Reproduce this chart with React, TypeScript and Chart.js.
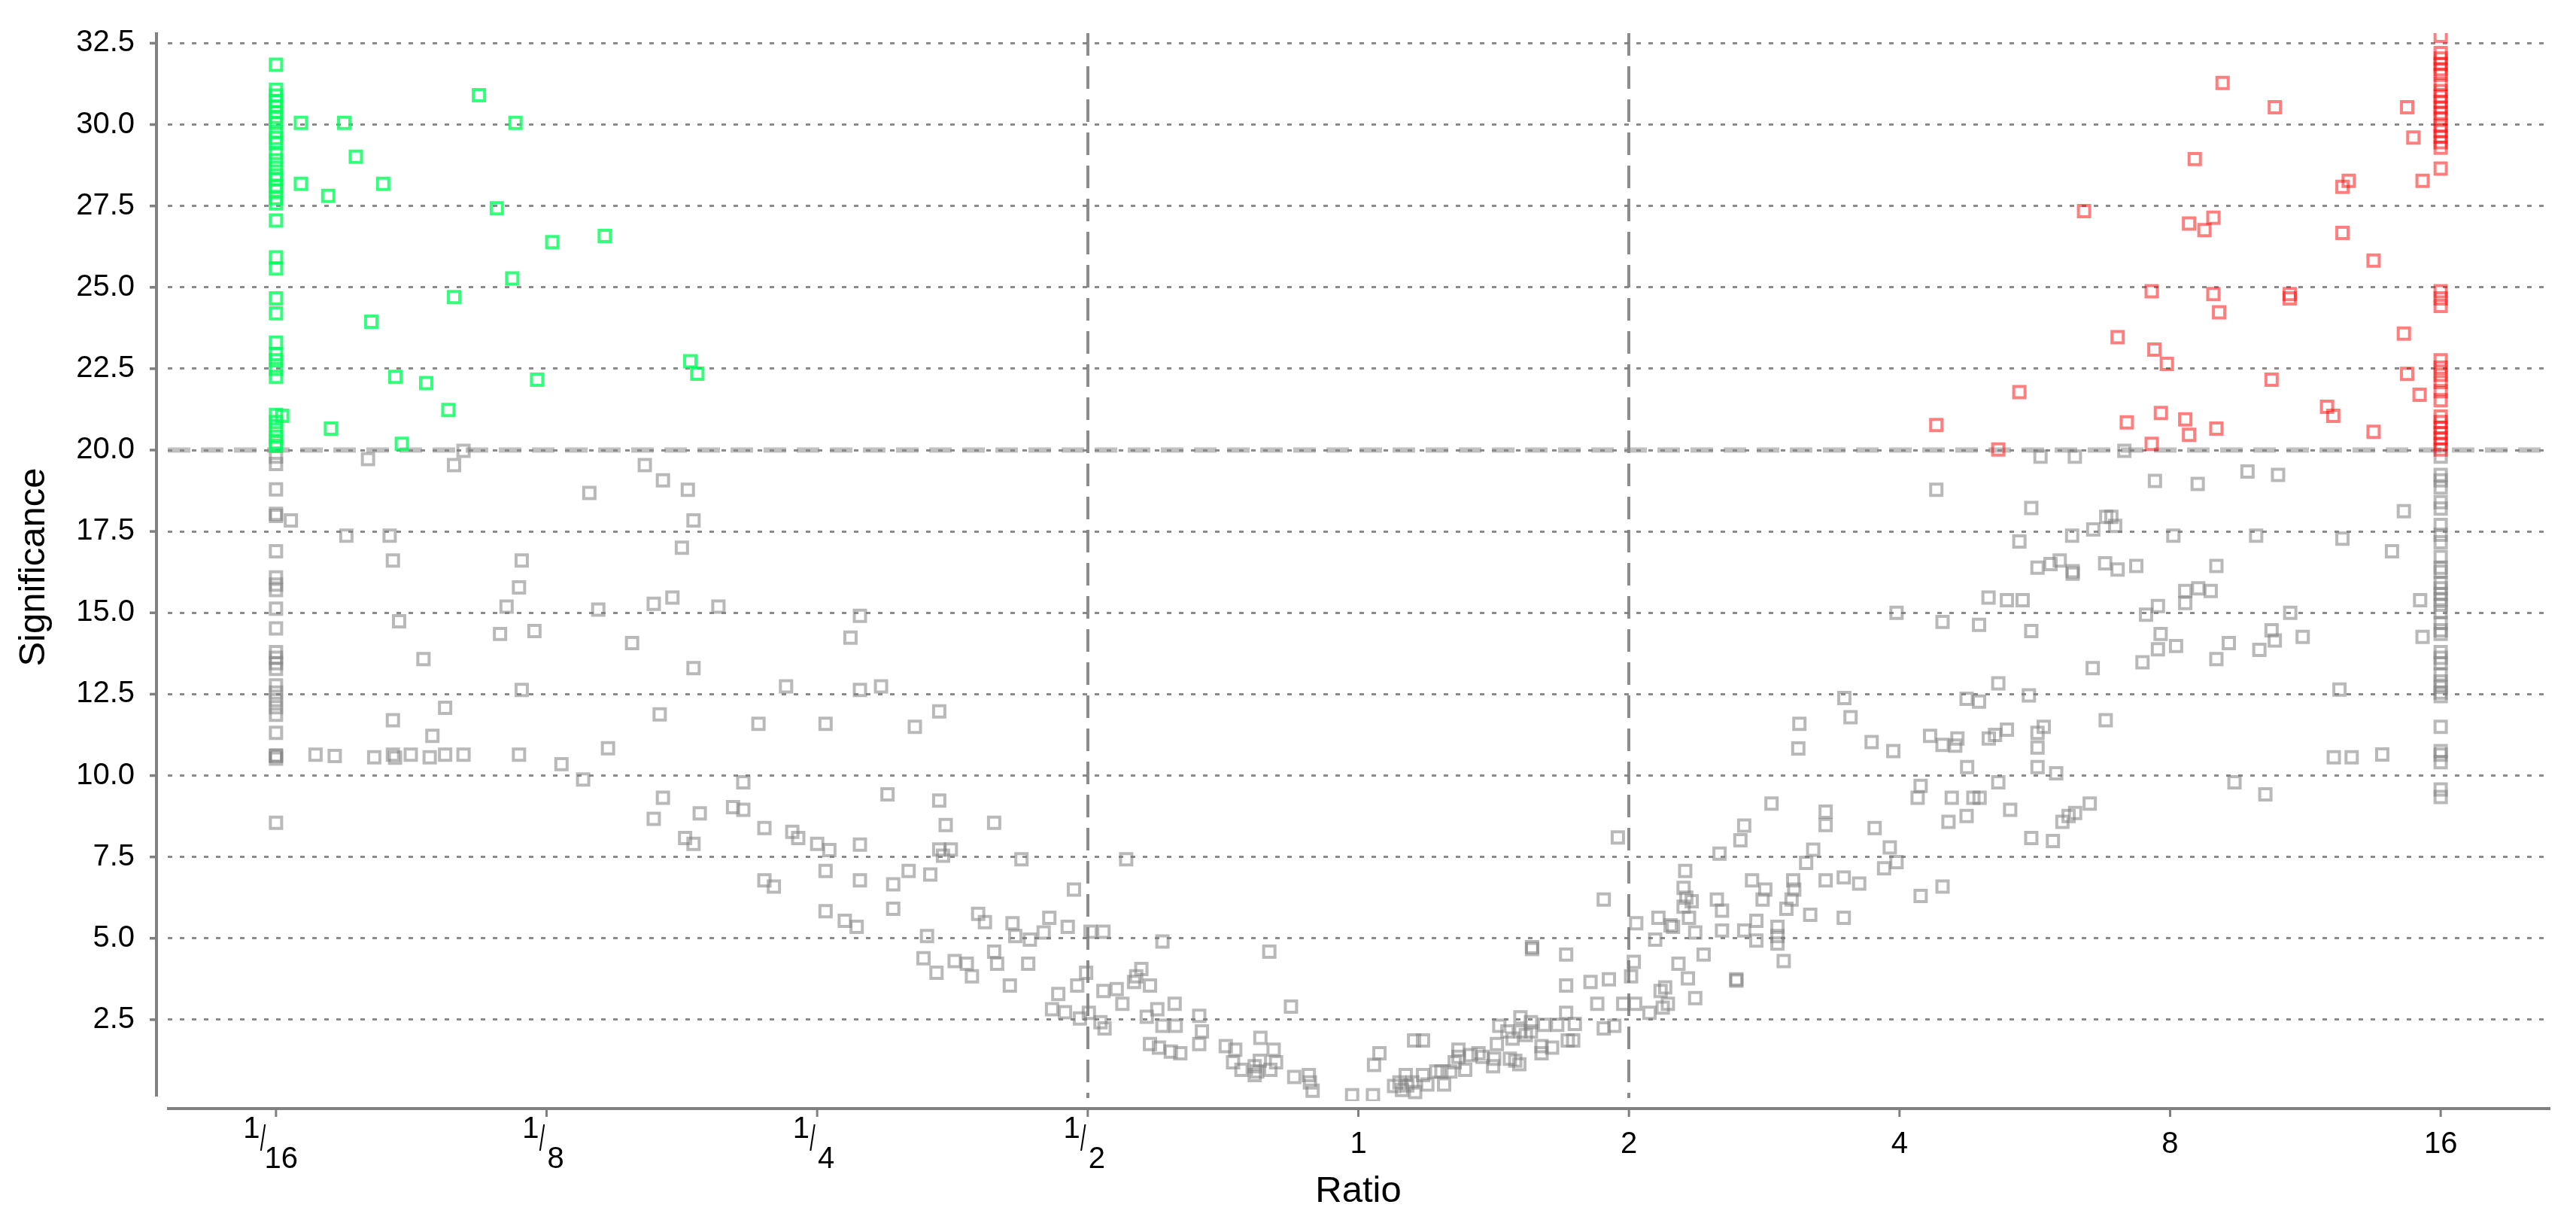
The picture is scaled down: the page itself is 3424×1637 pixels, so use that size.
import React, { useEffect, useRef } from 'react';
import { Chart, registerables } from 'chart.js';

Chart.register(...registerables);

const FONT = '"Liberation Sans", Arial, sans-serif';

// x axis: ratio ticks (log2 exponents) and their labels
const xTickLog2 = [-4, -3, -2, -1, 0, 1, 2, 3, 4];
const xTickLabels = ['1/16', '1/8', '1/4', '1/2', '1', '2', '4', '8', '16'];
const xRangeLog2 = [-4.4, 4.4];

// y axis: significance ticks
const yTicks = [2.5, 5, 7.5, 10, 12.5, 15, 17.5, 20, 22.5, 25, 27.5, 30, 32.5];
const yRange = [0, 32.81];

// thresholds
const ratioThresholds = [0.5, 2];
const significanceThreshold = 20;

// points: [log2(ratio), significance]
const greenPoints: [number, number][] = [
  [-4, 31.84], [-4, 31.07], [-4, 30.89], [-4, 30.72], [-4, 30.55], [-4, 30.38], [-4, 30.24], [-4, 30.05],
  [-4, 29.78], [-4, 29.59], [-4, 29.43], [-4, 29.13], [-4, 28.9], [-4, 28.67], [-4, 28.44], [-4, 28.32],
  [-4, 28.12], [-4, 27.97], [-4, 27.74], [-4, 27.58], [-4, 27.05], [-4, 25.92], [-4, 25.58], [-4, 24.66],
  [-4, 24.2], [-4, 23.3], [-4, 22.95], [-4, 22.76], [-4, 22.5], [-4, 22.25], [-4, 21.08], [-4, 20.86],
  [-4, 20.63], [-4, 20.41], [-4, 20.24], [-4, 20.13],
  [-3.908, 30.05], [-3.748, 30.05], [-3.25, 30.9], [-3.115, 30.05], [-3.705, 29.01], [-3.908, 28.18],
  [-3.807, 27.81], [-3.604, 28.18], [-3.184, 27.43], [-2.979, 26.39], [-2.785, 26.58], [-3.127, 25.27],
  [-3.342, 24.7], [-3.648, 23.94], [-2.469, 22.73], [-2.443, 22.35], [-3.559, 22.25], [-3.445, 22.06],
  [-3.035, 22.16], [-3.363, 21.23], [-3.797, 20.66], [-3.535, 20.19], [-3.977, 21.05],
];

const redPoints: [number, number][] = [
  [4, 32.73], [4, 32.2], [4, 32.03], [4, 31.86], [4, 31.7], [4, 31.53], [4, 31.25], [4, 31.03],
  [4, 30.86], [4, 30.7], [4, 30.52], [4, 30.36], [4, 30.19], [4, 29.96], [4, 29.8], [4, 29.63],
  [4, 29.46], [4, 29.29], [4, 28.65], [4, 24.88], [4, 24.66], [4, 24.43], [4, 22.76], [4, 22.53],
  [4, 22.31], [4, 22.09], [4, 21.81], [4, 21.53], [4, 21.03], [4, 20.86], [4, 20.69], [4, 20.52],
  [4, 20.36], [4, 20.19], [4, 20.02],
  [3.194, 31.28], [3.387, 30.53], [3.876, 30.53], [3.899, 29.6], [3.091, 28.94], [3.933, 28.27],
  [3.66, 28.27], [3.637, 28.09], [2.682, 27.34], [3.07, 26.96], [3.16, 27.14], [3.127, 26.76],
  [3.637, 26.67], [3.752, 25.82], [2.932, 24.88], [3.16, 24.79], [3.442, 24.79], [3.442, 24.66],
  [3.181, 24.23], [2.806, 23.47], [2.942, 23.09], [2.988, 22.65], [3.864, 23.58], [3.375, 22.16],
  [3.876, 22.34], [3.922, 21.7], [2.443, 21.78], [3.58, 21.33], [3.603, 21.05], [2.136, 20.77],
  [2.84, 20.85], [2.966, 21.14], [3.056, 20.94], [3.07, 20.47], [3.171, 20.66], [2.932, 20.19],
  [3.752, 20.56], [2.365, 20.02],
];

const grayPoints: [number, number][] = [
  // left column (1/16)
  [-4, 19.8], [-4, 19.57], [-4, 18.79], [-4, 18.04], [-4, 17.98], [-4, 16.89], [-4, 16.09], [-4, 15.87],
  [-4, 15.7], [-4, 15.13], [-4, 14.52], [-4, 13.79], [-4, 13.62], [-4, 13.45], [-4, 13.28], [-4, 12.77],
  [-4, 12.55], [-4, 12.32], [-4, 12.1], [-4, 11.87], [-4, 11.31], [-4, 10.62], [-4, 10.6], [-4, 10.52],
  [-4, 8.55],
  // left upper region
  [-3.945, 17.84], [-3.66, 19.72], [-3.307, 19.98], [-3.342, 19.54], [-2.637, 19.54], [-2.57, 19.07],
  [-2.478, 18.78], [-2.842, 18.68], [-2.457, 17.84], [-3.74, 17.37], [-3.58, 17.37], [-2.5, 17.0],
  [-3.568, 16.61], [-3.092, 16.61],
  [-3.102, 15.78], [-3.148, 15.19], [-3.172, 14.35], [-3.045, 14.44], [-3.545, 14.74], [-3.455, 13.58],
  [-2.809, 15.1], [-2.604, 15.28], [-2.535, 15.47], [-2.365, 15.19], [-2.684, 14.07], [-2.457, 13.3],
  [-1.842, 14.91], [-1.877, 14.24], [-3.092, 12.63], [-2.115, 12.74], [-1.842, 12.63], [-1.764, 12.74],
  [-3.568, 11.7], [-3.375, 12.08], [-3.422, 11.22], [-2.582, 11.88], [-2.217, 11.59], [-1.969, 11.59],
  [-1.639, 11.5], [-1.549, 11.97],
  [-3.854, 10.64], [-3.783, 10.6], [-3.637, 10.56], [-3.568, 10.64], [-3.56, 10.55], [-3.502, 10.64],
  [-3.432, 10.56], [-3.375, 10.64], [-3.307, 10.64], [-3.102, 10.64], [-2.945, 10.35], [-2.773, 10.84],
  [-2.865, 9.88], [-2.273, 9.79], [-2.57, 9.32], [-2.604, 8.67], [-2.434, 8.84], [-2.311, 9.03],
  [-2.273, 8.95], [-1.74, 9.42], [-1.549, 9.23],
  [-2.488, 8.08], [-2.457, 7.9], [-2.195, 8.39], [-2.092, 8.27], [-2.07, 8.08], [-2.0, 7.9],
  [-1.955, 7.71], [-1.842, 7.88], [-1.525, 8.48], [-1.549, 7.73], [-1.506, 7.73], [-1.535, 7.54],
  [-2.195, 6.78], [-2.16, 6.59], [-1.969, 7.07], [-1.842, 6.78], [-1.719, 6.66], [-1.662, 7.07],
  [-1.582, 6.96], [-1.969, 5.83], [-1.898, 5.54], [-1.854, 5.35], [-1.719, 5.91], [-1.594, 5.07],
  [-1.607, 4.39], [-1.559, 3.94], [-1.492, 4.3], [-1.447, 4.22], [-1.428, 3.83], [-1.405, 5.75],
  // centre valley
  [-1.346, 8.55], [-1.245, 7.43], [-0.858, 7.43], [-1.38, 5.5], [-1.278, 5.46], [-1.142, 5.63],
  [-1.074, 5.35], [-1.051, 6.5], [-1.268, 5.07], [-1.214, 4.96], [-1.163, 5.18], [-1.346, 4.59],
  [-1.335, 4.22], [-1.22, 4.22], [-1.288, 3.55],
  [-0.99, 5.2], [-0.942, 5.2], [-0.724, 4.9], [-0.329, 4.59], [-1.006, 3.94], [-1.039, 3.55],
  [-1.109, 3.29], [-1.132, 2.82], [-1.084, 2.73], [-1.029, 2.54], [-0.996, 2.71], [-0.953, 2.42],
  [-0.938, 2.23], [-0.942, 3.38], [-0.893, 3.44], [-0.872, 2.99], [-0.829, 3.66], [-0.821, 3.83],
  [-0.802, 4.06], [-0.77, 3.55], [-0.679, 2.99], [-0.743, 2.82], [-0.782, 2.59], [-0.724, 2.31],
  [-0.675, 2.31], [-0.588, 2.62], [-0.578, 2.14], [-0.588, 1.75], [-0.77, 1.75], [-0.737, 1.64],
  [-0.693, 1.52], [-0.658, 1.47], [-0.49, 1.69], [-0.455, 1.58], [-0.463, 1.19], [-0.432, 0.96],
  [-0.383, 1.07], [-0.374, 0.91], [-0.364, 1.24], [-0.383, 0.8], [-0.325, 0.96], [-0.362, 1.94],
  [-0.313, 1.58], [-0.304, 1.19], [-0.249, 2.9], [-0.237, 0.74], [-0.183, 0.8], [-0.179, 0.57],
  [-0.169, 0.32], [-0.023, 0.18], [0.054, 0.18], [0.058, 1.11], [0.078, 1.47],
  [0.132, 0.46], [0.152, 0.57], [0.161, 0.34], [0.181, 0.48], [0.2, 0.57], [0.21, 0.28],
  [0.175, 0.8], [0.206, 1.86], [0.239, 1.86], [0.239, 0.8], [0.255, 0.51], [0.288, 0.91],
  [0.307, 0.91], [0.317, 0.51], [0.34, 0.91], [0.356, 1.19], [0.37, 1.58], [0.37, 1.36],
  [0.395, 0.96], [0.414, 1.41], [0.444, 1.47], [0.459, 1.36], [0.498, 1.07], [0.502, 1.3],
  [0.512, 1.75], [0.521, 2.31], [0.551, 2.14], [0.56, 1.3], [0.57, 1.92], [0.58, 1.24],
  [0.595, 1.13], [0.599, 2.57], [0.599, 2.14], [0.619, 2.03], [0.638, 2.42], [0.638, 2.14],
  [0.642, 4.67], [0.642, 4.73], [0.677, 1.69], [0.677, 1.47], [0.687, 2.34], [0.716, 1.64],
  [0.735, 2.34], [0.768, 4.5], [0.768, 3.55], [0.768, 2.71], [0.774, 1.86], [0.794, 1.86],
  [0.8, 2.37], [0.858, 3.66], [0.883, 2.99], [0.907, 6.19], [0.907, 2.23], [0.926, 3.74],
  [0.946, 2.31], [0.959, 8.1], [0.979, 2.99], [1.008, 3.83], [1.018, 4.28], [1.023, 2.99],
  [1.027, 5.46], [1.076, 2.71], [1.097, 4.96], [1.109, 5.63], [1.117, 3.38], [1.125, 2.87],
  [1.144, 2.99], [1.134, 3.49], [1.154, 5.4], [1.163, 5.35], [1.183, 4.22], [1.202, 6.55],
  [1.208, 7.07], [1.202, 5.97], [1.212, 6.25], [1.218, 3.77], [1.222, 5.63], [1.232, 6.14],
  [1.245, 5.18], [1.245, 3.16], [1.276, 4.5], [1.325, 6.19], [1.335, 7.6], [1.344, 5.85],
  [1.344, 5.24], [1.397, 3.74], [1.397, 3.7], [1.412, 8.01], [1.426, 8.46], [1.426, 5.24],
  [1.455, 6.78], [1.471, 5.54], [1.471, 4.93], [1.494, 6.19], [1.504, 6.5], [1.527, 9.14],
  [1.549, 5.35], [1.549, 5.07], [1.549, 4.84], [1.572, 4.3], [1.582, 5.91], [1.601, 6.19],
  [1.607, 6.78], [1.611, 6.5], [1.626, 10.83], [1.63, 11.59], [1.655, 7.32],
  // right upper region
  [2.521, 19.8], [2.648, 19.8], [2.831, 19.98], [2.136, 18.78], [2.944, 19.05], [3.102, 18.96],
  [3.286, 19.34], [3.399, 19.24], [2.487, 18.22], [2.764, 17.95], [2.783, 17.95], [2.797, 17.67],
  [2.716, 17.56], [3.864, 18.12], [2.443, 17.19], [2.638, 17.37], [3.012, 17.37], [3.318, 17.37],
  [3.637, 17.28], [3.82, 16.89], [2.51, 16.39], [2.558, 16.5], [2.592, 16.61], [2.64, 16.28],
  [2.64, 16.2], [2.76, 16.52], [2.806, 16.33], [2.875, 16.44], [3.171, 16.44],
  // right column (16)
  [4, 19.8], [4, 19.24], [4, 19.07], [4, 18.85], [4, 18.4], [4, 18.2], [4, 17.7], [4, 17.4],
  [4, 17.17], [4, 16.72], [4, 16.39], [4, 16.26], [4, 15.92], [4, 15.75], [4, 15.58], [4, 15.42],
  [4, 15.25], [4, 15.02], [4, 14.69], [4, 14.46], [4, 14.35], [4, 13.79], [4, 13.62], [4, 13.45],
  [4, 13.11], [4, 12.89], [4, 12.72], [4, 12.55], [4, 12.44], [4, 11.5], [4, 10.75], [4, 10.64],
  [4, 10.41], [4, 9.57], [4, 9.34],
  // right middle region
  [3.924, 15.39], [2.329, 15.47], [2.397, 15.39], [2.455, 15.39], [3.056, 15.67], [3.104, 15.75],
  [3.15, 15.67], [3.056, 15.3], [2.955, 15.21], [2.911, 14.94], [1.989, 15.0], [2.159, 14.72],
  [2.294, 14.63], [2.487, 14.44], [3.444, 15.0], [2.965, 14.35], [2.955, 13.88], [3.022, 13.98],
  [2.898, 13.48], [3.171, 13.58], [3.217, 14.07], [3.33, 13.86], [3.375, 14.46], [3.387, 14.15],
  [3.49, 14.26], [3.933, 14.26],
  [2.714, 13.3], [2.365, 12.83], [1.796, 12.38], [2.248, 12.36], [2.294, 12.27], [2.478, 12.46],
  [3.626, 12.64], [2.762, 11.7], [1.819, 11.79], [1.897, 11.03], [1.977, 10.75], [2.113, 11.22],
  [2.159, 10.94], [2.214, 11.14], [2.206, 10.92], [2.33, 11.14], [2.353, 11.25], [2.397, 11.41],
  [2.51, 11.31], [2.533, 11.5], [2.51, 10.86], [3.605, 10.56], [3.671, 10.56], [3.784, 10.65],
  [2.25, 10.26], [2.51, 10.26], [2.579, 10.07], [2.365, 9.79], [2.078, 9.68], [2.067, 9.32],
  [2.193, 9.32], [2.273, 9.32], [2.296, 9.32], [3.238, 9.79], [3.352, 9.42],
  [1.727, 8.89], [1.727, 8.48], [1.908, 8.39], [2.181, 8.58], [2.248, 8.76], [2.409, 8.95],
  [2.602, 8.58], [2.625, 8.76], [2.649, 8.85], [2.703, 9.14], [2.487, 8.08], [2.567, 7.99],
  [1.681, 7.72], [1.964, 7.79], [1.943, 7.15], [1.989, 7.34], [1.727, 6.78], [1.794, 6.87],
  [1.851, 6.68], [1.794, 5.63], [1.67, 5.72], [2.078, 6.3], [2.159, 6.59],
];

const GRAY = 'rgba(128,128,128,0.55)';
const GREEN = 'rgba(0,255,90,0.8)';
const RED = 'rgba(255,0,0,0.5)';
const GRID_COLOR = 'rgba(110,110,110,0.8)';
const AXIS_COLOR = '#808080';
const THRESH_COLOR = 'rgba(120,120,120,0.85)';

const toXY = (pts: [number, number][]) => pts.map(([l, s]) => ({ x: Math.pow(2, l), y: s }));

const decorPlugin = {
  id: 'decor',
  beforeDatasetsDraw(chart: any) {
    const { ctx, chartArea: a, scales } = chart;
    const x = scales.x;
    const y = scales.y;
    ctx.save();
    ctx.strokeStyle = THRESH_COLOR;
    ctx.lineWidth = 4;
    ctx.setLineDash([30, 14]);
    for (const r of ratioThresholds) {
      const px = Math.round(x.getPixelForValue(r));
      ctx.beginPath();
      ctx.moveTo(px, a.top);
      ctx.lineTo(px, a.bottom - 4);
      ctx.stroke();
    }
    const py = y.getPixelForValue(significanceThreshold);
    ctx.strokeStyle = 'rgba(140,140,140,0.55)';
    ctx.lineWidth = 7;
    ctx.beginPath();
    ctx.moveTo(a.left, py);
    ctx.lineTo(a.right + 2, py);
    ctx.stroke();
    ctx.restore();
  },
  afterDraw(chart: any) {
    const { ctx, chartArea: a, scales } = chart;
    const x = scales.x;
    const y = scales.y;
    const line = (x1: number, y1: number, x2: number, y2: number) => {
      ctx.beginPath();
      ctx.moveTo(x1, y1);
      ctx.lineTo(x2, y2);
      ctx.stroke();
    };
    ctx.save();
    ctx.setLineDash([]);
    ctx.strokeStyle = AXIS_COLOR;
    const axX = a.left - 15;
    const axY = a.bottom + 10;
    ctx.lineWidth = 4;
    line(axX, a.top - 1, axX, a.bottom - 6);
    line(a.left - 1, axY, a.right + 2, axY);
    ctx.lineWidth = 3.5;
    y.ticks.forEach((t: any) => {
      const py = y.getPixelForValue(t.value);
      line(axX - 9, py, axX, py);
    });
    ctx.lineWidth = 3;
    x.ticks.forEach((t: any) => {
      const px = x.getPixelForValue(t.value);
      line(px, axY + 2, px, axY + 11);
    });

    ctx.fillStyle = '#000';
    ctx.textBaseline = 'alphabetic';
    x.ticks.forEach((t: any, i: number) => {
      const label = xTickLabels[i];
      const T = x.getPixelForValue(t.value);
      ctx.font = `40px ${FONT}`;
      if (label.includes('/')) {
        const [num, den] = label.split('/');
        const wd = ctx.measureText(den).width;
        ctx.textAlign = 'right';
        ctx.fillText(num, T + 1 - wd / 2, a.bottom + 49);
        ctx.textAlign = 'left';
        ctx.fillText(den, T + 12 - wd / 2 - (den.length > 1 ? 5 : 0), a.bottom + 89);
        ctx.save();
        ctx.translate(T + 5 - wd / 2, a.bottom + 66);
        ctx.scale(0.55, 1);
        ctx.font = `49px ${FONT}`;
        ctx.textAlign = 'center';
        ctx.fillText('/', 0, 0);
        ctx.restore();
      } else {
        ctx.textAlign = 'center';
        ctx.fillText(label, T, a.bottom + 69);
      }
    });
    ctx.restore();
  },
};

export default function App() {
  const canvasRef = useRef<HTMLCanvasElement | null>(null);

  useEffect(() => {
    const canvas = canvasRef.current;
    if (!canvas) return;
    const pointOpts = {
      pointStyle: 'rect',
      pointRadius: 10.6,
      pointHoverRadius: 10.6,
      pointBorderWidth: 4,
      pointBackgroundColor: 'rgba(0,0,0,0)',
    };
    const chart = new Chart(canvas, {
      type: 'scatter',
      data: {
        datasets: [
          { label: 'Down-regulated', data: toXY(greenPoints), pointBorderColor: GREEN, borderColor: GREEN, ...pointOpts },
          { label: 'Up-regulated', data: toXY(redPoints), pointBorderColor: RED, borderColor: RED, ...pointOpts },
          { label: 'Not significant', data: toXY(grayPoints), pointBorderColor: GRAY, borderColor: GRAY, ...pointOpts },
        ],
      } as any,
      options: {
        responsive: false,
        animation: false,
        devicePixelRatio: 1,
        layout: { padding: { top: 44, right: 36, bottom: 0, left: 0 } },
        plugins: { legend: { display: false }, tooltip: { enabled: false } },
        events: [],
        scales: {
          x: {
            type: 'logarithmic',
            min: Math.pow(2, xRangeLog2[0]),
            max: Math.pow(2, xRangeLog2[1]),
            afterBuildTicks: (s: any) => {
              s.ticks = xTickLog2.map((k) => ({ value: Math.pow(2, k) }));
            },
            afterFit: (s: any) => {
              s.height = 174;
              s.paddingLeft = 0;
              s.paddingRight = 0;
            },
            ticks: { display: false },
            grid: { display: false },
            border: { display: false },
            title: {
              display: true,
              text: 'Ratio',
              color: '#000',
              font: { family: FONT, size: 49 },
              padding: { top: 0, bottom: 24 },
            },
          },
          y: {
            type: 'linear',
            min: yRange[0],
            max: yRange[1],
            afterBuildTicks: (s: any) => {
              s.ticks = yTicks.map((v) => ({ value: v }));
            },
            afterFit: (s: any) => {
              s.width = 223;
              s.paddingTop = 0;
              s.paddingBottom = 0;
            },
            ticks: {
              color: '#000',
              font: { family: FONT, size: 40 },
              padding: 44,
              callback: (v: any) => Number(v).toFixed(1),
            },
            grid: { color: GRID_COLOR, lineWidth: 3, drawTicks: false },
            border: { display: false, dash: [6, 10] },
            title: {
              display: true,
              text: 'Significance',
              color: '#000',
              font: { family: FONT, size: 49 },
              padding: { top: 16, bottom: 0 },
            },
          },
        },
      } as any,
      plugins: [decorPlugin as any],
    });
    return () => chart.destroy();
  }, []);

  return (
    <canvas
      ref={canvasRef}
      width={3424}
      height={1637}
      style={{ position: 'absolute', left: 0, top: 0, width: 3424, height: 1637 }}
    />
  );
}
